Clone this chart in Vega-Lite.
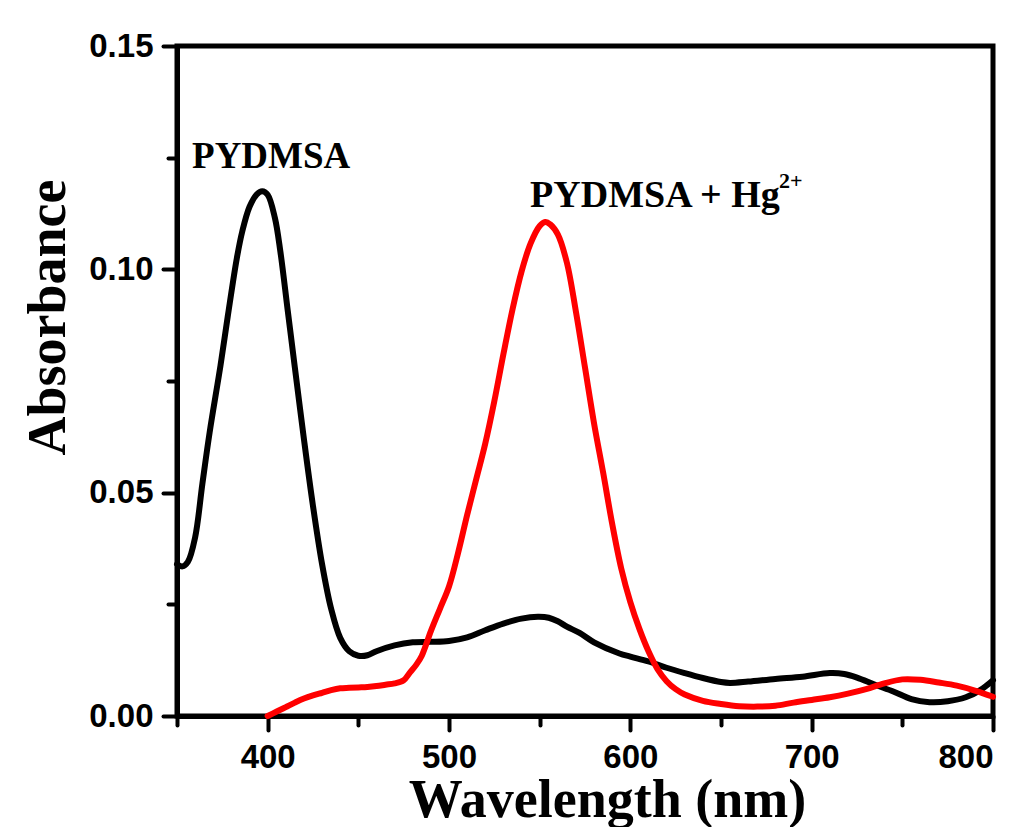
{
  "$schema": "https://vega.github.io/schema/vega-lite/v6.json",
  "width": 816,
  "height": 670,
  "autosize": {"type": "none"},
  "padding": {"left": 177, "top": 46, "right": 38, "bottom": 111},
  "background": "white",
  "config": {
    "view": {"stroke": "black", "strokeWidth": 5},
    "axis": {
      "domainColor": "black",
      "domainWidth": 5,
      "tickColor": "black",
      "tickWidth": 4,
      "tickCap": "round",
      "grid": false,
      "labelFont": "Liberation Sans",
      "labelFontWeight": "bold",
      "labelFontSize": 33,
      "labelColor": "black",
      "titleFont": "Liberation Serif",
      "titleFontWeight": "bold",
      "titleFontSize": 54,
      "titleColor": "black"
    }
  },
  "datasets": {
    "spectra": [
      {"series": "PYDMSA", "wavelength": 350, "absorbance": 0.0340},
      {"series": "PYDMSA", "wavelength": 353, "absorbance": 0.0335},
      {"series": "PYDMSA", "wavelength": 356, "absorbance": 0.0345},
      {"series": "PYDMSA", "wavelength": 360, "absorbance": 0.0400},
      {"series": "PYDMSA", "wavelength": 364, "absorbance": 0.0520},
      {"series": "PYDMSA", "wavelength": 368, "absorbance": 0.0635},
      {"series": "PYDMSA", "wavelength": 374, "absorbance": 0.0785},
      {"series": "PYDMSA", "wavelength": 378, "absorbance": 0.0895},
      {"series": "PYDMSA", "wavelength": 383, "absorbance": 0.1025},
      {"series": "PYDMSA", "wavelength": 386, "absorbance": 0.1085},
      {"series": "PYDMSA", "wavelength": 390, "absorbance": 0.1140},
      {"series": "PYDMSA", "wavelength": 394, "absorbance": 0.1168},
      {"series": "PYDMSA", "wavelength": 397, "absorbance": 0.1175},
      {"series": "PYDMSA", "wavelength": 400, "absorbance": 0.1167},
      {"series": "PYDMSA", "wavelength": 404, "absorbance": 0.1115},
      {"series": "PYDMSA", "wavelength": 407, "absorbance": 0.1040},
      {"series": "PYDMSA", "wavelength": 411, "absorbance": 0.0910},
      {"series": "PYDMSA", "wavelength": 415, "absorbance": 0.0780},
      {"series": "PYDMSA", "wavelength": 420, "absorbance": 0.0620},
      {"series": "PYDMSA", "wavelength": 425, "absorbance": 0.0470},
      {"series": "PYDMSA", "wavelength": 430, "absorbance": 0.0340},
      {"series": "PYDMSA", "wavelength": 435, "absorbance": 0.0240},
      {"series": "PYDMSA", "wavelength": 440, "absorbance": 0.0175},
      {"series": "PYDMSA", "wavelength": 445, "absorbance": 0.0145},
      {"series": "PYDMSA", "wavelength": 450, "absorbance": 0.0135},
      {"series": "PYDMSA", "wavelength": 455, "absorbance": 0.0136},
      {"series": "PYDMSA", "wavelength": 460, "absorbance": 0.0145},
      {"series": "PYDMSA", "wavelength": 470, "absorbance": 0.0158},
      {"series": "PYDMSA", "wavelength": 480, "absorbance": 0.0165},
      {"series": "PYDMSA", "wavelength": 490, "absorbance": 0.0166},
      {"series": "PYDMSA", "wavelength": 500, "absorbance": 0.0168},
      {"series": "PYDMSA", "wavelength": 510, "absorbance": 0.0176},
      {"series": "PYDMSA", "wavelength": 520, "absorbance": 0.0192},
      {"series": "PYDMSA", "wavelength": 530, "absorbance": 0.0207},
      {"series": "PYDMSA", "wavelength": 540, "absorbance": 0.0218},
      {"series": "PYDMSA", "wavelength": 549, "absorbance": 0.0222},
      {"series": "PYDMSA", "wavelength": 555, "absorbance": 0.0220},
      {"series": "PYDMSA", "wavelength": 560, "absorbance": 0.0212},
      {"series": "PYDMSA", "wavelength": 565, "absorbance": 0.0200},
      {"series": "PYDMSA", "wavelength": 572, "absorbance": 0.0186},
      {"series": "PYDMSA", "wavelength": 580, "absorbance": 0.0165},
      {"series": "PYDMSA", "wavelength": 594, "absorbance": 0.0140},
      {"series": "PYDMSA", "wavelength": 600, "absorbance": 0.0133},
      {"series": "PYDMSA", "wavelength": 610, "absorbance": 0.0122},
      {"series": "PYDMSA", "wavelength": 620, "absorbance": 0.0108},
      {"series": "PYDMSA", "wavelength": 630, "absorbance": 0.0096},
      {"series": "PYDMSA", "wavelength": 640, "absorbance": 0.0085},
      {"series": "PYDMSA", "wavelength": 650, "absorbance": 0.0076},
      {"series": "PYDMSA", "wavelength": 655, "absorbance": 0.0074},
      {"series": "PYDMSA", "wavelength": 665, "absorbance": 0.0077},
      {"series": "PYDMSA", "wavelength": 680, "absorbance": 0.0083},
      {"series": "PYDMSA", "wavelength": 695, "absorbance": 0.0088},
      {"series": "PYDMSA", "wavelength": 710, "absorbance": 0.0096},
      {"series": "PYDMSA", "wavelength": 718, "absorbance": 0.0094},
      {"series": "PYDMSA", "wavelength": 725, "absorbance": 0.0086},
      {"series": "PYDMSA", "wavelength": 735, "absorbance": 0.0070},
      {"series": "PYDMSA", "wavelength": 745, "absorbance": 0.0055},
      {"series": "PYDMSA", "wavelength": 755, "absorbance": 0.0038},
      {"series": "PYDMSA", "wavelength": 765, "absorbance": 0.0031},
      {"series": "PYDMSA", "wavelength": 775, "absorbance": 0.0033},
      {"series": "PYDMSA", "wavelength": 785, "absorbance": 0.0042},
      {"series": "PYDMSA", "wavelength": 793, "absorbance": 0.0058},
      {"series": "PYDMSA", "wavelength": 800, "absorbance": 0.0080},
      {"series": "PYDMSA + Hg", "wavelength": 400, "absorbance": 0.0000},
      {"series": "PYDMSA + Hg", "wavelength": 405, "absorbance": 0.0010},
      {"series": "PYDMSA + Hg", "wavelength": 410, "absorbance": 0.0020},
      {"series": "PYDMSA + Hg", "wavelength": 415, "absorbance": 0.0030},
      {"series": "PYDMSA + Hg", "wavelength": 420, "absorbance": 0.0039},
      {"series": "PYDMSA + Hg", "wavelength": 425, "absorbance": 0.0046},
      {"series": "PYDMSA + Hg", "wavelength": 430, "absorbance": 0.0052},
      {"series": "PYDMSA + Hg", "wavelength": 435, "absorbance": 0.0058},
      {"series": "PYDMSA + Hg", "wavelength": 440, "absorbance": 0.0062},
      {"series": "PYDMSA + Hg", "wavelength": 445, "absorbance": 0.0063},
      {"series": "PYDMSA + Hg", "wavelength": 450, "absorbance": 0.0064},
      {"series": "PYDMSA + Hg", "wavelength": 455, "absorbance": 0.0065},
      {"series": "PYDMSA + Hg", "wavelength": 460, "absorbance": 0.0067},
      {"series": "PYDMSA + Hg", "wavelength": 465, "absorbance": 0.0070},
      {"series": "PYDMSA + Hg", "wavelength": 470, "absorbance": 0.0073},
      {"series": "PYDMSA + Hg", "wavelength": 475, "absorbance": 0.0080},
      {"series": "PYDMSA + Hg", "wavelength": 478, "absorbance": 0.0095},
      {"series": "PYDMSA + Hg", "wavelength": 482, "absorbance": 0.0115},
      {"series": "PYDMSA + Hg", "wavelength": 485, "absorbance": 0.0135},
      {"series": "PYDMSA + Hg", "wavelength": 490, "absorbance": 0.0190},
      {"series": "PYDMSA + Hg", "wavelength": 495, "absorbance": 0.0240},
      {"series": "PYDMSA + Hg", "wavelength": 500, "absorbance": 0.0290},
      {"series": "PYDMSA + Hg", "wavelength": 505, "absorbance": 0.0365},
      {"series": "PYDMSA + Hg", "wavelength": 510, "absorbance": 0.0450},
      {"series": "PYDMSA + Hg", "wavelength": 515, "absorbance": 0.0530},
      {"series": "PYDMSA + Hg", "wavelength": 520, "absorbance": 0.0610},
      {"series": "PYDMSA + Hg", "wavelength": 525, "absorbance": 0.0705},
      {"series": "PYDMSA + Hg", "wavelength": 530, "absorbance": 0.0810},
      {"series": "PYDMSA + Hg", "wavelength": 535, "absorbance": 0.0910},
      {"series": "PYDMSA + Hg", "wavelength": 540, "absorbance": 0.0995},
      {"series": "PYDMSA + Hg", "wavelength": 545, "absorbance": 0.1058},
      {"series": "PYDMSA + Hg", "wavelength": 550, "absorbance": 0.1097},
      {"series": "PYDMSA + Hg", "wavelength": 553, "absorbance": 0.1106},
      {"series": "PYDMSA + Hg", "wavelength": 556, "absorbance": 0.1100},
      {"series": "PYDMSA + Hg", "wavelength": 560, "absorbance": 0.1078},
      {"series": "PYDMSA + Hg", "wavelength": 565, "absorbance": 0.1015},
      {"series": "PYDMSA + Hg", "wavelength": 570, "absorbance": 0.0905},
      {"series": "PYDMSA + Hg", "wavelength": 575, "absorbance": 0.0780},
      {"series": "PYDMSA + Hg", "wavelength": 580, "absorbance": 0.0655},
      {"series": "PYDMSA + Hg", "wavelength": 585, "absorbance": 0.0545},
      {"series": "PYDMSA + Hg", "wavelength": 590, "absorbance": 0.0430},
      {"series": "PYDMSA + Hg", "wavelength": 595, "absorbance": 0.0330},
      {"series": "PYDMSA + Hg", "wavelength": 600, "absorbance": 0.0255},
      {"series": "PYDMSA + Hg", "wavelength": 605, "absorbance": 0.0195},
      {"series": "PYDMSA + Hg", "wavelength": 610, "absorbance": 0.0145},
      {"series": "PYDMSA + Hg", "wavelength": 615, "absorbance": 0.0105},
      {"series": "PYDMSA + Hg", "wavelength": 620, "absorbance": 0.0078},
      {"series": "PYDMSA + Hg", "wavelength": 625, "absorbance": 0.0060},
      {"series": "PYDMSA + Hg", "wavelength": 630, "absorbance": 0.0048},
      {"series": "PYDMSA + Hg", "wavelength": 640, "absorbance": 0.0034},
      {"series": "PYDMSA + Hg", "wavelength": 650, "absorbance": 0.0027},
      {"series": "PYDMSA + Hg", "wavelength": 660, "absorbance": 0.0022},
      {"series": "PYDMSA + Hg", "wavelength": 670, "absorbance": 0.0021},
      {"series": "PYDMSA + Hg", "wavelength": 680, "absorbance": 0.0023},
      {"series": "PYDMSA + Hg", "wavelength": 690, "absorbance": 0.0030},
      {"series": "PYDMSA + Hg", "wavelength": 700, "absorbance": 0.0036},
      {"series": "PYDMSA + Hg", "wavelength": 710, "absorbance": 0.0042},
      {"series": "PYDMSA + Hg", "wavelength": 720, "absorbance": 0.0050},
      {"series": "PYDMSA + Hg", "wavelength": 730, "absorbance": 0.0060},
      {"series": "PYDMSA + Hg", "wavelength": 740, "absorbance": 0.0073},
      {"series": "PYDMSA + Hg", "wavelength": 750, "absorbance": 0.0082},
      {"series": "PYDMSA + Hg", "wavelength": 760, "absorbance": 0.0081},
      {"series": "PYDMSA + Hg", "wavelength": 770, "absorbance": 0.0075},
      {"series": "PYDMSA + Hg", "wavelength": 780, "absorbance": 0.0068},
      {"series": "PYDMSA + Hg", "wavelength": 790, "absorbance": 0.0057},
      {"series": "PYDMSA + Hg", "wavelength": 800, "absorbance": 0.0043}
    ],
    "labels": [
      {"text": "PYDMSA", "wavelength": 358.3, "absorbance": 0.1227, "size": 37},
      {"text": "PYDMSA + Hg", "wavelength": 544.7, "absorbance": 0.1139, "size": 38},
      {"text": "2+", "wavelength": 682.0, "absorbance": 0.1182, "size": 22}
    ]
  },
  "layer": [
    {
      "data": {"name": "spectra"},
      "mark": {"type": "line", "strokeWidth": 6, "interpolate": "catmull-rom", "strokeCap": "round", "strokeJoin": "round"},
      "encoding": {
        "x": {
          "field": "wavelength", "type": "quantitative",
          "scale": {"domain": [350, 800], "nice": false, "zero": false},
          "axis": {
            "title": "Wavelength (nm)",
            "values": [350, 400, 450, 500, 550, 600, 650, 700, 750, 800],
            "labelExpr": "datum.value % 100 === 0 ? datum.label : ''",
            "tickSize": {"condition": {"test": "datum.value % 100 === 0", "value": 14}, "value": 9},
            "labelPadding": 11,
            "titleX": 430,
            "titleY": 100,
            "titleBaseline": "alphabetic"
          }
        },
        "y": {
          "field": "absorbance", "type": "quantitative",
          "scale": {"domain": [0, 0.15], "nice": false},
          "axis": {
            "title": "Absorbance",
            "values": [0, 0.025, 0.05, 0.075, 0.1, 0.125, 0.15],
            "format": ".2f",
            "labelExpr": "round(datum.value * 1000) % 50 === 0 ? datum.label : ''",
            "tickSize": {"condition": {"test": "round(datum.value * 1000) % 50 === 0", "value": 14}, "value": 9},
            "labelPadding": 10,
            "titleAngle": -90,
            "titleX": -113,
            "titleY": 271,
            "titleAlign": "center",
            "titleBaseline": "alphabetic"
          }
        },
        "color": {
          "field": "series", "type": "nominal",
          "scale": {"domain": ["PYDMSA", "PYDMSA + Hg"], "range": ["#000000", "#ff0000"]},
          "legend": null
        }
      }
    },
    {
      "data": {"name": "labels"},
      "mark": {"type": "text", "font": "Liberation Serif", "fontWeight": "bold", "align": "left", "baseline": "alphabetic", "color": "black"},
      "encoding": {
        "x": {"field": "wavelength", "type": "quantitative"},
        "y": {"field": "absorbance", "type": "quantitative"},
        "text": {"field": "text"},
        "size": {"field": "size", "type": "quantitative", "scale": null}
      }
    }
  ]
}
